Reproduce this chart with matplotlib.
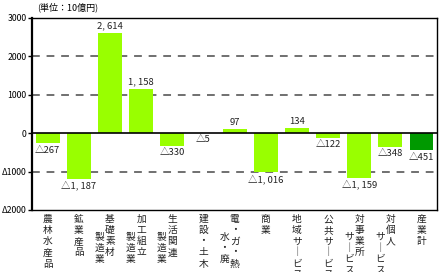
import matplotlib
matplotlib.use("Agg")
import matplotlib.pyplot as plt

plt.rcParams['font.family'] = ['Noto Sans CJK JP', 'DejaVu Sans']

# 産業別の値（単位：10億円）
categories = [["農林水産品"], ["鉱業産品"], ["基礎素材", "製造業"], ["加工組立", "製造業"],
              ["生活関連", "製造業"], ["建設・土木"], ["電・ガ・熱・", "水・廃"], ["商業"],
              ["地域サービス"], ["公共サービス"], ["対事業所", "サービス"], ["対個人", "サービス"],
              ["産業計"]]
values = [-267, -1187, 2614, 1158, -330, -5, 97, -1016, 134, -122, -1159, -348, -451]
colors = ['#99ff00'] * 12 + ['#009900']
yticks = [-2000, -1000, 0, 1000, 2000, 3000]
ytick_labels = ['Δ2000', 'Δ1000', '0', '1000', '2000', '3000']


def fmt(v):
    s = f"{abs(v):,}".replace(",", ", ")
    return s if v >= 0 else "△" + s


fig = plt.figure(figsize=(4.46, 2.72), dpi=100)
ax = fig.add_axes([0.072, 0.228, 0.908, 0.706])

x = list(range(len(values)))
ax.bar(x, values, width=0.77, color=colors, zorder=2)

for yy in [1000, 2000, -1000]:
    ax.axhline(yy, color='#707070', lw=1.4, ls=(0, (4, 3.5)), zorder=1)
ax.axhline(0, color='black', lw=1.2, zorder=3)

for i, v in enumerate(values):
    if v >= 0:
        ax.annotate(fmt(v), (i, v), xytext=(0, 1.5), textcoords='offset points',
                    ha='center', va='bottom', fontsize=6.8, color='#222222')
    else:
        ax.annotate(fmt(v), (i, v), xytext=(0, -1.5), textcoords='offset points',
                    ha='center', va='top', fontsize=6.8, color='#222222')

ax.set_xlim(-0.5, len(values) - 0.5)
ax.set_ylim(-2000, 3000)
ax.set_yticks(yticks)
ax.set_yticklabels(ytick_labels, fontsize=6.3)
ax.set_xticks([])
ax.tick_params(axis='y', length=3, width=1, pad=1)
for s in ax.spines.values():
    s.set_linewidth(1)
ax.spines['left'].set_linewidth(1.6)

# 縦書きのカテゴリ名
rowh = 8.0
colw = 7.5
for i, cols in enumerate(categories):
    for c, txt in enumerate(cols):
        start = 0 if c == 0 else 1.6
        for k, ch in enumerate(txt.replace("ー", "｜")):
            ax.annotate(ch, (i, 0), xycoords=('data', 'axes fraction'),
                        xytext=(-c * colw, -3 - (start + k) * rowh),
                        textcoords='offset points', ha='center', va='top',
                        fontsize=7, color='#222222', annotation_clip=False)

fig.text(0.083, 0.955, "(単位：10億円)", fontsize=6.5, ha='left', va='bottom')

fig.savefig("out.png", dpi=100)
